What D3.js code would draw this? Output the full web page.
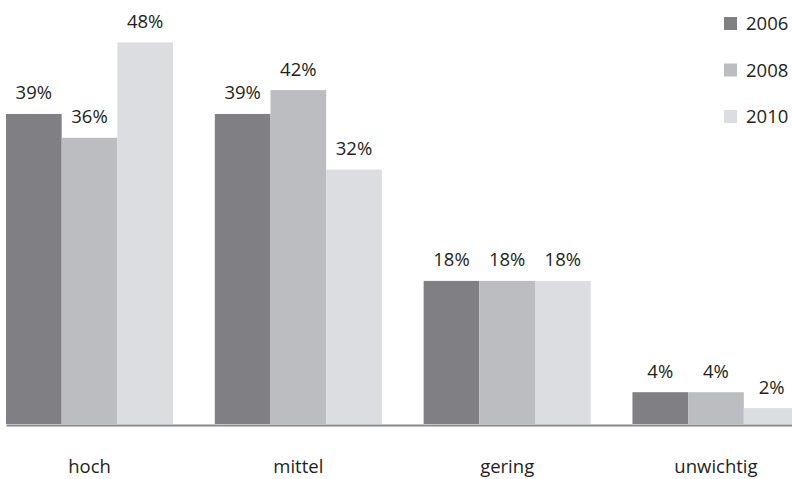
<!DOCTYPE html>
<html>
<head>
<meta charset="utf-8">
<script src="https://cdn.jsdelivr.net/npm/d3@7/dist/d3.min.js"></script>
<style>
  html, body { margin: 0; padding: 0; background: #fff; }
  svg { display: block; }
  text { font-family: "Open Sans", "Noto Sans", sans-serif; fill: #231f20; }
</style>
</head>
<body>
<script>
// Importance ratings by survey year
const categories = ["hoch", "mittel", "gering", "unwichtig"];
const years = ["2006", "2008", "2010"];
const values2006 = [39, 39, 18, 4];
const values2008 = [36, 42, 18, 4];
const values2010 = [48, 32, 18, 2];
const seriesValues = [values2006, values2008, values2010];
const colors = ["#808084", "#bcbdc0", "#dcdde0"];

const W = 792, H = 479;
const baseline = 424;

const svg = d3.select("body").append("svg")
  .attr("width", W).attr("height", H);

const x = d3.scaleBand()
  .domain(categories)
  .range([6, 799.5])
  .paddingInner(0.2)
  .paddingOuter(0);

const xSub = d3.scaleBand()
  .domain(years)
  .range([0, x.bandwidth()])
  .padding(0);

const y = d3.scaleLinear()
  .domain([0, 50])
  .range([baseline, baseline - 397.5]);

const color = d3.scaleOrdinal().domain(years).range(colors);

const rows = [];
categories.forEach((c, i) => {
  years.forEach((yr, j) => {
    rows.push({ cat: c, year: yr, value: seriesValues[j][i] });
  });
});

const plot = svg.append("g");

plot.selectAll("rect.bar")
  .data(rows)
  .join("rect")
  .attr("class", "bar")
  .attr("x", d => x(d.cat) + xSub(d.year))
  .attr("y", d => y(d.value))
  .attr("width", xSub.bandwidth())
  .attr("height", d => y(0) - y(d.value))
  .attr("fill", d => color(d.year));

plot.selectAll("text.val")
  .data(rows)
  .join("text")
  .attr("class", "val")
  .attr("x", d => x(d.cat) + xSub(d.year) + xSub.bandwidth() / 2)
  .attr("y", d => y(d.value) - 14.5)
  .attr("text-anchor", "middle")
  .style("font-size", "18.5px")
  .text(d => d.value + "%");

// Baseline axis with category labels
const axis = svg.append("g")
  .attr("transform", `translate(0,${baseline + 1})`)
  .call(d3.axisBottom(x).tickSize(0).tickSizeOuter(0));

axis.select(".domain")
  .attr("stroke", "#87888b")
  .attr("stroke-width", 2);

axis.selectAll(".tick text")
  .attr("y", 48)
  .attr("dy", 0)
  .style("font-size", "18.5px")
  .style("font-family", "\"Open Sans\", \"Noto Sans\", sans-serif")
  .attr("fill", "#231f20");

// Legend
const legend = svg.append("g")
  .selectAll("g")
  .data(years)
  .join("g")
  .attr("transform", (d, i) => `translate(724,${17 + i * 46.5})`);

legend.append("rect")
  .attr("width", 13).attr("height", 13)
  .attr("fill", d => color(d));

legend.append("text")
  .attr("x", 22)
  .attr("y", 13)
  .style("font-size", "18.5px")
  .text(d => d);
</script>
</body>
</html>
